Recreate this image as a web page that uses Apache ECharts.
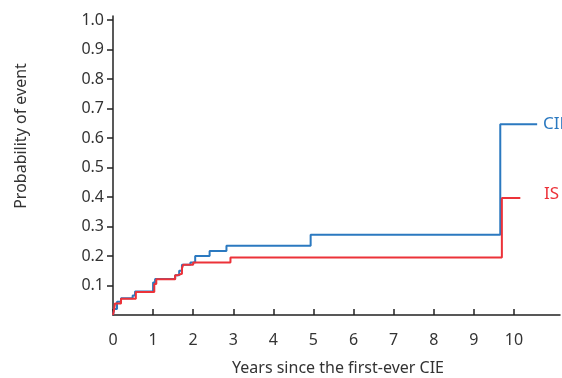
<!DOCTYPE html>
<html><head><meta charset="utf-8">
<script src="https://cdn.jsdelivr.net/npm/echarts@6/dist/echarts.min.js"></script>
<style>html,body{margin:0;padding:0;background:#fff}#c{width:562px;height:378px}</style>
</head><body><div id="c"></div>
<script>
const cieX = [0, 0.03, 0.1, 0.2, 0.49, 0.55, 1.0, 1.05, 1.55, 1.65, 1.72, 1.93, 2.05, 2.41, 2.83, 4.93, 9.66, 10.58];
const cieY = [0, 0.02, 0.045, 0.057, 0.066, 0.08, 0.11, 0.122, 0.135, 0.15, 0.17, 0.178, 0.2, 0.217, 0.235, 0.272, 0.647, 0.647];
const isX = [0, 0.03, 0.05, 0.2, 0.57, 1.03, 1.08, 1.55, 1.62, 1.72, 1.75, 2.0, 2.93, 9.7, 10.16];
const isY = [0, 0.02, 0.039, 0.055, 0.078, 0.105, 0.121, 0.135, 0.14, 0.158, 0.17, 0.178, 0.195, 0.397, 0.397];
const xTicks = [0,1,2,3,4,5,6,7,8,9,10];
const yTicks = [0.1,0.2,0.3,0.4,0.5,0.6,0.7,0.8,0.9,1.0];
const seriesNames = ['CIE', 'IS'];
const xTitle = 'Years since the first-ever CIE';
const yTitle = 'Probability of event';

const pairs = (xs, ys) => xs.map((x, i) => [x, ys[i]]);
const font = 'Noto Sans';
const chart = echarts.init(document.getElementById('c'), null, {renderer: 'canvas'});
chart.setOption({
  animation: false,
  grid: {left: 113, right: 2, top: 16, bottom: 63},
  xAxis: {
    type: 'value', min: 0, max: 11.15,
    axisLine: {lineStyle: {color: '#222', width: 1.5}},
    axisTick: {inside: true, length: 6, customValues: xTicks, lineStyle: {color: '#222', width: 1.5}},
    axisLabel: {customValues: xTicks, color: '#333', fontFamily: font, fontSize: 16, margin: 17},
    splitLine: {show: false}
  },
  yAxis: {
    type: 'value', min: 0, max: 1.0136,
    axisLine: {show: true, lineStyle: {color: '#222', width: 1.5}},
    axisTick: {show: true, length: 6, customValues: yTicks, lineStyle: {color: '#222', width: 1.5}},
    axisLabel: {customValues: yTicks, color: '#333', fontFamily: font, fontSize: 16, margin: 9,
      formatter: v => v.toFixed(1)},
    splitLine: {show: false}
  },
  series: [
    {name: seriesNames[0], type: 'line', step: 'end', showSymbol: false, symbol: 'none',
     data: pairs(cieX, cieY), lineStyle: {color: '#2b79c0', width: 2}, z: 2},
    {name: seriesNames[1], type: 'line', step: 'end', showSymbol: false, symbol: 'none',
     data: pairs(isX, isY), lineStyle: {color: '#ec3239', width: 2}, z: 3}
  ],
  graphic: [
    {type: 'text', left: 543, top: 116, style: {text: seriesNames[0], fill: '#2b79c0', font: '17px "Noto Sans"'}},
    {type: 'text', left: 544, top: 186, style: {text: seriesNames[1], fill: '#ec3239', font: '17px "Noto Sans"'}},
    {type: 'text', x: 338, y: 368, style: {text: xTitle, fill: '#333', font: '16px "Noto Sans"', align: 'center', verticalAlign: 'middle'}},
    {type: 'text', x: 21, y: 136, rotation: Math.PI/2, style: {text: yTitle, fill: '#333', font: '16px "Noto Sans"', align: 'center', verticalAlign: 'middle'}}
  ]
});
</script></body></html>
